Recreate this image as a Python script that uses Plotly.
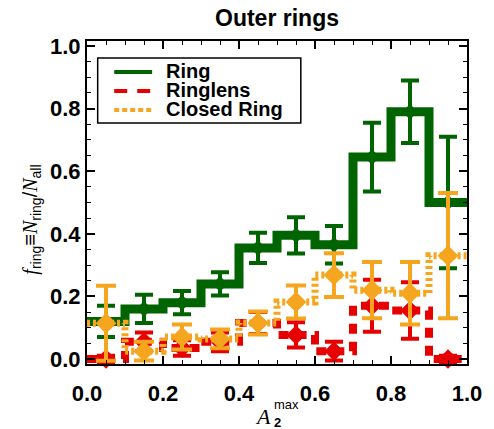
import plotly.graph_objects as go

# ---- data ----
bin_edges = [0.0, 0.1, 0.2, 0.3, 0.4, 0.5, 0.6, 0.7, 0.8, 0.9, 1.0]
bin_centers = [0.05, 0.15, 0.25, 0.35, 0.45, 0.55, 0.65, 0.75, 0.85, 0.95]

ring = [0.12, 0.16, 0.18, 0.24, 0.355, 0.395, 0.365, 0.645, 0.79, 0.50]
ring_err = [0.05, 0.045, 0.037, 0.037, 0.048, 0.058, 0.06, 0.11, 0.10, 0.21]

ringlens = [0.0, 0.055, 0.035, 0.055, 0.115, 0.077, 0.025, 0.17, 0.155, 0.0]
ringlens_err = [0.01, 0.03, 0.025, 0.03, 0.035, 0.04, 0.03, 0.083, 0.09, 0.01]

closed = [0.114, 0.025, 0.07, 0.064, 0.115, 0.182, 0.268, 0.22, 0.21, 0.33]
closed_err = [0.12, 0.03, 0.04, 0.03, 0.037, 0.053, 0.07, 0.09, 0.10, 0.20]

series_names = ["Ring", "Ringlens", "Closed Ring"]
tick_vals = [0.0, 0.2, 0.4, 0.6, 0.8, 1.0]
tick_text = ["0.0", "0.2", "0.4", "0.6", "0.8", "1.0"]

GREEN = "#006400"
RED = "#e60000"
ORANGE = "#f5a51e"

fig = go.Figure()


def add_series(vals, errs, color, lw, dash, msize, capw):
    fig.add_trace(go.Scatter(
        x=bin_edges, y=list(vals) + [vals[-1]], mode="lines",
        line=dict(color=color, width=lw, dash=dash, shape="hv"),
        hoverinfo="skip", cliponaxis=False))
    fig.add_trace(go.Scatter(
        x=bin_centers, y=vals, mode="markers",
        marker=dict(symbol="diamond", size=msize, color=color, line=dict(width=0)),
        error_y=dict(type="data", array=errs, thickness=4, width=capw, color=color),
        cliponaxis=False))


add_series(ring, ring_err, GREEN, 9, "solid", 12, 9)
add_series(ringlens, ringlens_err, RED, 8, "10px,8px", 15, 9)
add_series(closed, closed_err, ORANGE, 7, "3px,3px", 16, 10)

L, R, T, B = 87, 16, 41, 65
W, H = 494, 429
pw, ph = W - L - R, H - T - B


def px2x(px):
    return (px - L) / pw


def px2y(py):
    return (H - B - py) / ph


axis_common = dict(
    showgrid=False, zeroline=False, showline=True, linecolor="black", linewidth=2,
    mirror="allticks", ticks="inside", ticklen=8, tickwidth=1.5, tickcolor="black",
    tickvals=tick_vals, ticktext=tick_text,
    tickfont=dict(family="Liberation Sans, Arial", size=22, color="black", weight="bold"),
    minor=dict(dtick=0.05, tick0=0, ticks="inside", ticklen=4, tickwidth=1.2, tickcolor="black"),
)

fig.update_layout(
    width=W, height=H, margin=dict(l=L, r=R, t=T, b=B),
    plot_bgcolor="white", paper_bgcolor="white", showlegend=False,
    title=dict(text="<b>Outer rings</b>", x=0.5, xref="paper", xanchor="center",
               y=1 - 18 / H, yanchor="middle",
               font=dict(family="Liberation Sans, Arial", size=23, color="black")),
    xaxis=dict(range=[0, 1], ticklabelstandoff=9, **axis_common),
    yaxis=dict(range=[-0.016, 1.016], ticklabelstandoff=0, **axis_common),
)

serif = "font-family:'Liberation Serif', 'Times New Roman', serif"
ytitle = (f"<span style=\"{serif}\"><i>f</i></span><sub>ring</sub>≡"
          f"<span style=\"{serif}\"><i>N</i></span><sub>ring</sub>/"
          f"<span style=\"{serif}\"><i>N</i></span><sub>all</sub>")

anns = [
    dict(text=ytitle, textangle=-90, x=px2x(29), y=px2y(220), xref="paper", yref="paper",
         xanchor="center", yanchor="middle", showarrow=False,
         font=dict(family="Liberation Sans, Arial", size=20, color="black")),
    dict(text="<i>A</i>", x=px2x(268), y=px2y(416), xref="paper", yref="paper",
         xanchor="center", yanchor="middle", showarrow=False,
         font=dict(family="Liberation Serif, Times New Roman", size=22, color="black")),
    dict(text="max", x=px2x(277), y=px2y(404), xref="paper", yref="paper",
         xanchor="left", yanchor="middle", showarrow=False,
         font=dict(family="Liberation Sans, Arial", size=13, color="black")),
    dict(text="<b>2</b>", x=px2x(277), y=px2y(422), xref="paper", yref="paper",
         xanchor="left", yanchor="middle", showarrow=False,
         font=dict(family="Liberation Sans, Arial", size=13, color="black")),
]

# legend (manual)
leg_colors = [GREEN, RED, ORANGE]
leg_dash = ["solid", "13px,10px", "5px,3px"]
leg_y = [72, 91, 110]
shapes = [dict(type="rect", xref="paper", yref="paper", x0=px2x(98), x1=px2x(307),
               y0=px2y(123), y1=px2y(58), line=dict(color="black", width=1.5),
               fillcolor="white", layer="above")]
for name, c, d, yy in zip(series_names, leg_colors, leg_dash, leg_y):
    shapes.append(dict(type="line", xref="paper", yref="paper", x0=px2x(115), x1=px2x(154),
                       y0=px2y(yy), y1=px2y(yy), line=dict(color=c, width=4, dash=d),
                       layer="above"))
    anns.append(dict(text=f"<b>{name}</b>", x=px2x(166), y=px2y(yy - 1), xref="paper",
                     yref="paper", xanchor="left", yanchor="middle", showarrow=False,
                     font=dict(family="Liberation Sans, Arial", size=20, color="black")))

fig.update_layout(annotations=anns, shapes=shapes)
fig.write_html("out.html")
